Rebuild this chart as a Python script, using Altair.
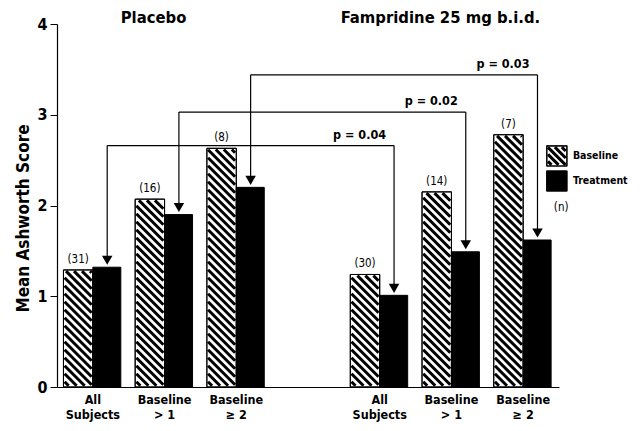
import altair as alt
import pandas as pd
import numpy as np

# ---------------- data ----------------
groups = ["Placebo", "Placebo", "Placebo", "Fampridine", "Fampridine", "Fampridine"]
cat_labels = ["All\nSubjects", "Baseline\n> 1", "Baseline\n\u2265 2",
              "All\nSubjects", "Baseline\n> 1", "Baseline\n\u2265 2"]
cat_pos = [0, 1, 2, 4, 5, 6]
baseline_vals = [1.29, 2.07, 2.63, 1.24, 2.15, 2.78]
treatment_vals = [1.32, 1.90, 2.20, 1.01, 1.49, 1.62]
n_labels = ["(31)", "(16)", "(8)", "(30)", "(14)", "(7)"]
panel_titles = ["Placebo", "Fampridine 25 mg b.i.d."]
panel_centers = [1, 5]
p_labels = ["p = 0.04", "p = 0.02", "p = 0.03"]
bracket_levels = [2.66, 3.03, 3.44]
y_ticks = [0, 1, 2, 3, 4]

# ---------------- layout ----------------
W, H = 502, 363
XDOM = [-0.5, 6.5]
YDOM = [0, 4]
xs = W / (XDOM[1] - XDOM[0])
ys = H / (YDOM[1] - YDOM[0])
FONT = "DejaVu Sans Condensed, Liberation Sans Narrow, Arial Narrow, sans-serif"
BW_B = 0.41   # baseline bar width (left of the category position)
BW_T = 0.39   # treatment bar width (right of the category position)
T_OFF = 0.2   # centre of treatment bar relative to category position

xsc = alt.Scale(domain=XDOM, nice=False, zero=False)
ysc = alt.Scale(domain=YDOM, nice=False)

bars = pd.DataFrame({
    "pos": cat_pos, "label": cat_labels, "base": baseline_vals,
    "treat": treatment_vals, "n": n_labels,
})
bars["b0"] = bars["pos"] - BW_B
bars["b1"] = bars["pos"]
bars["t0"] = bars["pos"]
bars["t1"] = bars["pos"] + BW_T
bars["zero"] = 0.0
bars["bc"] = bars["pos"] - BW_B / 2
bars["tc"] = bars["pos"] + T_OFF


def hatch(x0, x1, y0, y1, period=8.0, inset=1.2):
    """diagonal (\\) hatch segments inside a rectangle given in data units"""
    Wp = (x1 - x0) * xs - 2 * inset
    Hp = (y1 - y0) * ys - 2 * inset
    segs = []
    c = period / 2
    while c < Wp + Hp:
        xa = max(0.0, c - Hp)
        xb = min(Wp, c)
        if xb - xa > 0.5:
            segs.append({
                "hx": x0 + (xa + inset) / xs, "hy": y0 + (c - xa + inset) / ys,
                "hx2": x0 + (xb + inset) / xs, "hy2": y0 + (c - xb + inset) / ys,
            })
        c += period
    return segs


hatch_rows = []
for _, r in bars.iterrows():
    hatch_rows += hatch(r["b0"], r["b1"], 0.0, r["base"])

# legend (placed in data units, to the right of the last group)
leg_x0, leg_x1 = 6.33, 6.61
leg_base_y = (2.435, 2.656)
leg_treat_y = (2.160, 2.380)
legend_names = ["Baseline", "Treatment"]
hatch_rows += hatch(leg_x0, leg_x1, leg_base_y[0], leg_base_y[1], period=7.0)
hatch_df = pd.DataFrame(hatch_rows)

legend_df = pd.DataFrame({
    "x0": [leg_x0, leg_x0], "x1": [leg_x1, leg_x1],
    "y0": [leg_base_y[0], leg_treat_y[0]], "y1": [leg_base_y[1], leg_treat_y[1]],
    "fill": ["white", "black"], "name": legend_names,
    "ty": [sum(leg_base_y) / 2, sum(leg_treat_y) / 2],
})

# brackets
left_x = [cat_pos[i] + T_OFF for i in range(3)]
right_x = [cat_pos[i + 3] + T_OFF for i in range(3)]
br = pd.DataFrame({
    "lx": left_x, "rx": right_x, "lev": bracket_levels,
    "ltop": treatment_vals[:3], "rtop": treatment_vals[3:], "p": p_labels,
})
arrow_df = pd.DataFrame({
    "ax": left_x + right_x,
    "ay": treatment_vals[:3] + treatment_vals[3:],
})

X = lambda f: alt.X(f, type="quantitative", scale=xsc)
Y = lambda f: alt.Y(f, type="quantitative", scale=ysc)

base = alt.Chart(bars)

# axes holder
axes = base.mark_point(opacity=0).encode(
    x=alt.X("pos:Q", scale=xsc, axis=alt.Axis(
        labels=False, ticks=False, title=None, grid=False, domain=True,
        domainColor="black", domainWidth=1.2)),
    y=alt.Y("zero:Q", scale=ysc, axis=alt.Axis(
        values=y_ticks, format="d", grid=False, domainColor="black", domainWidth=1.2,
        tickColor="black", tickSize=7, labelPadding=3, labelFont=FONT,
        labelFontSize=16, labelFontWeight="bold", labelColor="black",
        title="Mean Ashworth Score", titleFont=FONT, titleFontSize=17,
        titleFontWeight="bold", titleColor="black", titleAngle=-90,
        titleX=-34, titleY=194, titleAlign="center", titleBaseline="middle")),
)

lg = alt.Chart(legend_df)
leg_boxes = lg.mark_rect(stroke="black", strokeWidth=1).encode(
    x=X("x0"), x2="x1", y=Y("y0"), y2="y1",
    fill=alt.Fill("fill:N", scale=None))

base_bars = base.mark_rect(fill="white", stroke="black", strokeWidth=1).encode(
    x=X("b0"), x2="b1", y=Y("zero"), y2="base")
hatch_layer = alt.Chart(hatch_df).mark_rule(color="black", strokeWidth=3).encode(
    x=X("hx"), y=Y("hy"), x2="hx2", y2="hy2")
base_outline = base.mark_rect(fill=None, stroke="black", strokeWidth=1).encode(
    x=X("b0"), x2="b1", y=Y("zero"), y2="base")
treat_bars = base.mark_rect(fill="black", stroke="black", strokeWidth=1).encode(
    x=X("t0"), x2="t1", y=Y("zero"), y2="treat")

n_text = base.mark_text(font=FONT, fontSize=11.5, color="black", baseline="bottom", dy=-5).encode(
    x=X("bc"), y=Y("base"), text="n:N")

x_text = base.mark_text(font=FONT, fontSize=12.5, fontWeight="bold", color="black",
                        baseline="top", lineBreak="\n", lineHeight=15, dy=7).encode(
    x=X("pos"), y=Y("zero"), text="label:N")

brc = alt.Chart(br)
vert_l = brc.mark_rule(color="black", strokeWidth=1.2, y2Offset=-8).encode(
    x=X("lx"), y=Y("lev"), y2="ltop")
vert_r = brc.mark_rule(color="black", strokeWidth=1.2, y2Offset=-8).encode(
    x=X("rx"), y=Y("lev"), y2="rtop")
horiz = brc.mark_rule(color="black", strokeWidth=1.2).encode(
    x=X("lx"), x2="rx", y=Y("lev"))
p_text = brc.mark_text(font=FONT, fontSize=12.5, fontWeight="bold", color="black",
                       align="right", baseline="bottom", dx=-8, dy=-4).encode(
    x=X("rx"), y=Y("lev"), text="p:N")
arrows = alt.Chart(arrow_df).mark_point(shape="triangle-down", filled=True, color="black",
                                        size=110, opacity=1, yOffset=-7).encode(
    x=X("ax"), y=Y("ay"))

titles_df = pd.DataFrame({"t": panel_titles, "x": panel_centers, "y": [YDOM[1]] * 2})
titles = alt.Chart(titles_df).mark_text(font=FONT, fontSize=16.5, fontWeight="bold",
                                        color="black", baseline="middle", dx=-11, dy=-6).encode(
    x=X("x"), y=Y("y"), text="t:N")

leg_outline = lg.mark_rect(fill=None, stroke="black", strokeWidth=1.2).encode(
    x=X("x0"), x2="x1", y=Y("y0"), y2="y1")
leg_text = lg.mark_text(font=FONT, fontSize=10.5, fontWeight="bold", color="black",
                        align="left", baseline="middle", dx=6).encode(
    x=X("x1"), y=Y("ty"), text="name:N")
n_leg = alt.Chart(pd.DataFrame({"x": [(leg_x0 + leg_x1) / 2 + 0.06], "y": [leg_treat_y[0]], "t": ["(n)"]})
                  ).mark_text(font=FONT, fontSize=11.5, color="black", baseline="top", dy=11).encode(
    x=X("x"), y=Y("y"), text="t:N")

chart = alt.layer(
    axes, leg_boxes, base_bars, hatch_layer, base_outline, treat_bars, n_text, x_text,
    vert_l, vert_r, horiz, arrows, p_text, titles, leg_outline, leg_text, n_leg,
).properties(
    width=W, height=H,
    autosize=alt.AutoSizeParams(type="none"),
    padding={"left": 49, "top": 16, "right": 73, "bottom": 36},
).configure_view(stroke=None)

chart.save("out.html", embed_options={"renderer": "svg", "actions": False})
